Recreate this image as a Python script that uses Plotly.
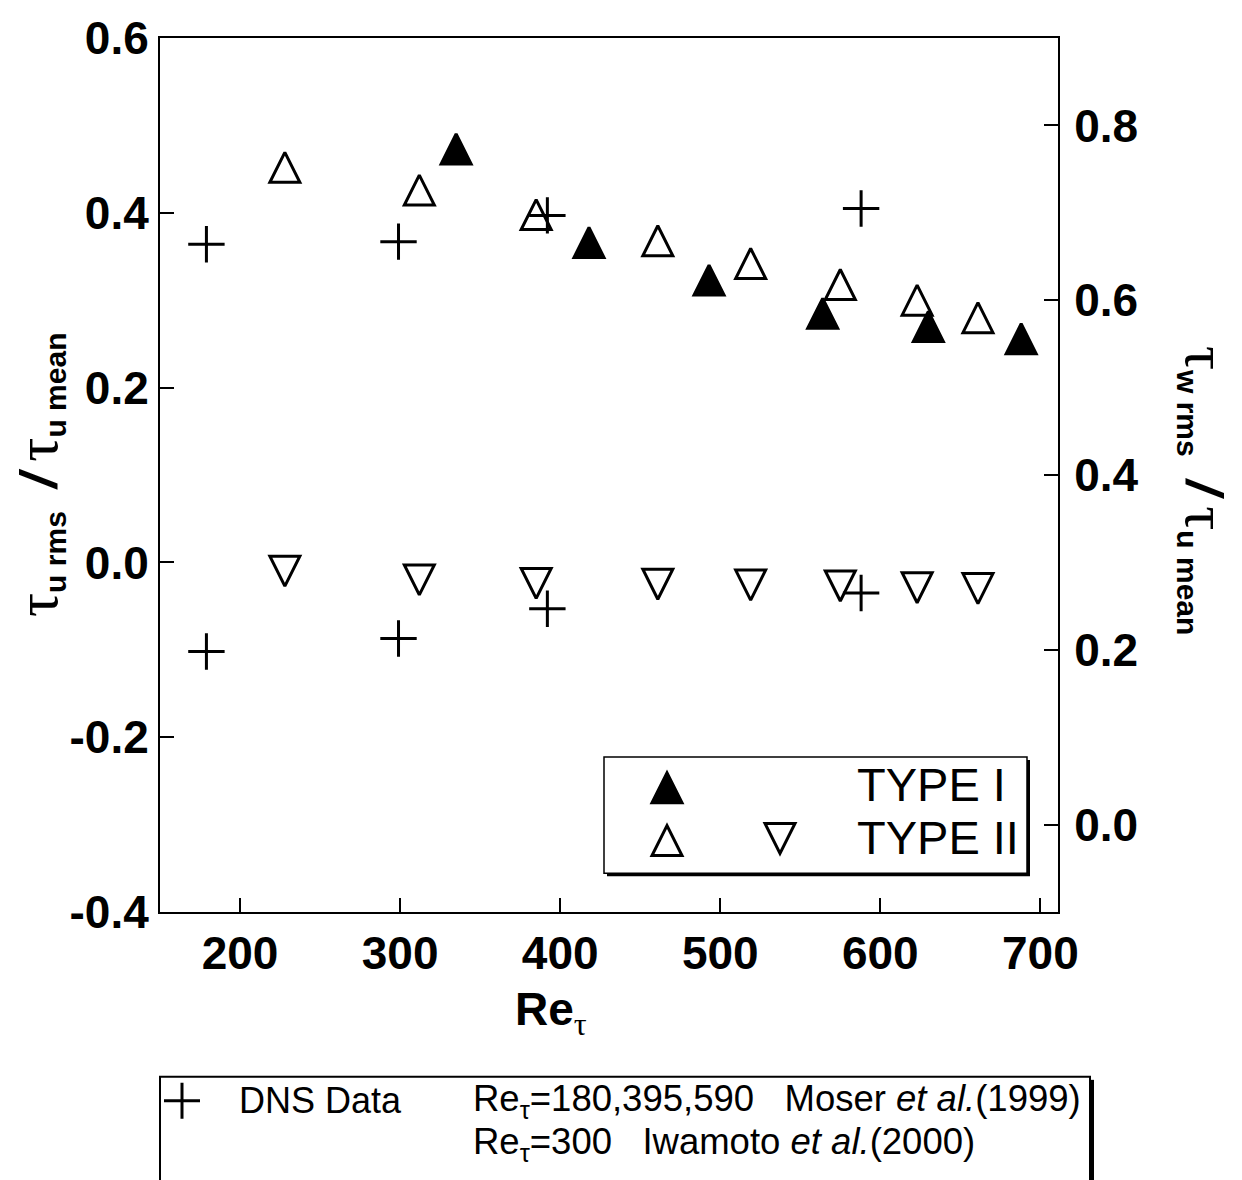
import plotly.graph_objects as go

# ---------------- data ----------------
re_dns = [179, 299, 392, 588]
urms_dns = [0.364, 0.367, 0.397, 0.405]      # left axis
wrms_dns = [0.198, 0.213, 0.247, 0.265]      # right axis

re_type1 = [335, 418, 493, 564, 630, 688]
urms_type1 = [0.473, 0.366, 0.323, 0.285, 0.270, 0.256]

re_type2 = [228, 312, 385, 461, 519, 575, 623, 661]
urms_type2 = [0.452, 0.426, 0.398, 0.368, 0.342, 0.318, 0.300, 0.280]
wrms_type2 = [0.290, 0.280, 0.276, 0.275, 0.274, 0.273, 0.271, 0.270]

x_ticks = [200, 300, 400, 500, 600, 700]
x_ticktext = ["200", "300", "400", "500", "600", "700"]
y_ticks = [-0.4, -0.2, 0.0, 0.2, 0.4, 0.6]
y_ticktext = ["-0.4", "-0.2", "0.0", "0.2", "0.4", "0.6"]
y2_ticks = [0.0, 0.2, 0.4, 0.6, 0.8]
y2_ticktext = ["0.0", "0.2", "0.4", "0.6", "0.8"]

legend_labels = ["TYPE I", "TYPE II"]
dns_label = "DNS Data"
dns_line1 = "Re<sub>τ</sub>=180,395,590   Moser <i>et al.</i>(1999)"
dns_line2 = "Re<sub>τ</sub>=300   Iwamoto <i>et al.</i>(2000)"

# ---------------- styling ----------------
SANS = "Liberation Sans, Arial, sans-serif"
SERIF = "Liberation Serif"
TRI = 30
TRI_LW = 3

fig = go.Figure()

# arrow markers give an equal-width/height triangle; standoff re-centres them
up_marker = dict(size=TRI, angle=180, standoff=TRI / 2)
down_marker = dict(size=TRI, angle=0, standoff=TRI / 2)

fig.add_trace(go.Scatter(
    x=re_type2, y=urms_type2, mode="markers", yaxis="y",
    marker=dict(symbol="arrow-down-open", color="black",
                line=dict(width=TRI_LW, color="black"), **up_marker)))
fig.add_trace(go.Scatter(
    x=re_type1, y=urms_type1, mode="markers", yaxis="y",
    marker=dict(symbol="arrow-down", color="black",
                line=dict(width=TRI_LW, color="black"), **up_marker)))
fig.add_trace(go.Scatter(
    x=re_dns, y=urms_dns, mode="markers", yaxis="y",
    marker=dict(symbol="cross-thin-open", size=26, color="black",
                line=dict(width=3, color="black"))))
fig.add_trace(go.Scatter(
    x=re_type2, y=wrms_type2, mode="markers", yaxis="y2",
    marker=dict(symbol="arrow-down-open", color="black",
                line=dict(width=TRI_LW, color="black"), **down_marker)))
fig.add_trace(go.Scatter(
    x=re_dns, y=wrms_dns, mode="markers", yaxis="y2",
    marker=dict(symbol="cross-thin-open", size=26, color="black",
                line=dict(width=3, color="black"))))

L, R, T, B = 160, 184, 32, 268
W, H = 1242, 1180
PW, PH = W - L - R, H - T - B


def px(xp):
    return (xp - L) / PW


def py(yp):
    return (T + PH - yp) / PH


tickfont = dict(family=SANS, size=46, color="black", weight="bold")
axis_common = dict(ticks="inside", ticklen=14, tickwidth=1.5, tickcolor="black",
                   showline=True, linewidth=2, linecolor="black",
                   showgrid=False, zeroline=False, tickfont=tickfont)

fig.update_layout(
    width=W, height=H, margin=dict(l=L, r=R, t=T, b=B),
    plot_bgcolor="white", paper_bgcolor="white", showlegend=False,
    xaxis=dict(range=[150, 711], tickmode="array", tickvals=x_ticks,
               ticktext=x_ticktext, mirror=True, **axis_common),
    yaxis=dict(range=[-0.4, 0.6], tickmode="array", tickvals=y_ticks,
               ticktext=y_ticktext, **axis_common),
    yaxis2=dict(range=[-0.1, 0.9], overlaying="y", side="right",
                tickmode="array", tickvals=y2_ticks, ticktext=y2_ticktext,
                ticklabelstandoff=5, **axis_common),
)

shapes = []
# inner legend box with drop shadow
shapes.append(dict(type="rect", xref="paper", yref="paper",
                   x0=px(607), x1=px(1030), y0=py(759), y1=py(876),
                   line=dict(width=0), fillcolor="black", layer="above"))
shapes.append(dict(type="rect", xref="paper", yref="paper",
                   x0=px(604), x1=px(1027), y0=py(756), y1=py(873),
                   line=dict(width=1.5, color="black"), fillcolor="white", layer="above"))


def tri_key(xc, yc, up, filled):
    h = TRI / 2
    if up:
        path = f"M {-h} {-h} L {h} {-h} L 0 {h} Z"
    else:
        path = f"M {-h} {h} L {h} {h} L 0 {-h} Z"
    return dict(type="path", xref="paper", yref="paper",
                xsizemode="pixel", ysizemode="pixel",
                xanchor=px(xc), yanchor=py(yc), path=path,
                line=dict(width=TRI_LW, color="black"),
                fillcolor="black" if filled else "white", layer="above")


shapes.append(tri_key(667, 787, True, True))
shapes.append(tri_key(667, 840, True, False))
shapes.append(tri_key(780, 838, False, False))

# bottom reference box
shapes.append(dict(type="rect", xref="paper", yref="paper",
                   x0=px(1089), x1=px(1094), y0=py(1081), y1=py(1190),
                   line=dict(width=0), fillcolor="black"))
shapes.append(dict(type="rect", xref="paper", yref="paper",
                   x0=px(160), x1=px(1090), y0=py(1078), y1=py(1190),
                   line=dict(width=2, color="black"), fillcolor="rgba(0,0,0,0)"))
shapes.append(dict(type="path", xref="paper", yref="paper",
                   xsizemode="pixel", ysizemode="pixel",
                   xanchor=px(182), yanchor=py(1102),
                   path="M -18 0 L 18 0 M 0 -18 L 0 18",
                   line=dict(width=3, color="black")))
fig.update_layout(shapes=shapes)

annotations = []
annotations.append(dict(text=legend_labels[0], xref="paper", yref="paper",
                        x=px(855), y=py(784), xanchor="left", yanchor="middle",
                        showarrow=False, font=dict(family=SANS, size=47, color="black")))
annotations.append(dict(text=legend_labels[1], xref="paper", yref="paper",
                        x=px(855), y=py(837), xanchor="left", yanchor="middle",
                        showarrow=False, font=dict(family=SANS, size=47, color="black")))

tau_x = f"<span style=\"font-family:{SERIF};font-weight:normal\">τ</span>"
tau = f"<span style=\"font-family:{SERIF};font-weight:normal;font-size:60px\">τ</span>"


def sub(t):
    return f"<sub><span style=\"font-size:30px\"><b>{t}</b></span></sub>"


slash = "<span style=\"font-size:52px\"><b><i>/</i></b></span>"

annotations.append(dict(
    text=f"<b>Re</b><sub>{tau_x}</sub>", xref="paper", yref="paper",
    x=px(551), y=py(1013), xanchor="center", yanchor="middle", showarrow=False,
    font=dict(family=SANS, size=46, color="black")))

annotations.append(dict(
    text=f"{tau}{sub('u rms')}  {slash} {tau}{sub('u mean')}",
    xref="paper", yref="paper", x=px(38), y=py(472), textangle=-90,
    xanchor="center", yanchor="middle", showarrow=False,
    font=dict(family=SANS, size=42, color="black")))
annotations.append(dict(
    text=f"{tau}{sub('w rms')}  {slash} {tau}{sub('u mean')}",
    xref="paper", yref="paper", x=px(1205), y=py(487), textangle=90,
    xanchor="center", yanchor="middle", showarrow=False,
    font=dict(family=SANS, size=42, color="black")))

annotations.append(dict(text=dns_label, xref="paper", yref="paper",
                        x=px(237), y=py(1102), xanchor="left", yanchor="middle",
                        showarrow=False, font=dict(family=SANS, size=36, color="black")))
annotations.append(dict(text=dns_line1, xref="paper", yref="paper",
                        x=px(471), y=py(1102), xanchor="left", yanchor="middle",
                        showarrow=False, font=dict(family=SANS, size=36.5, color="black")))
annotations.append(dict(text=dns_line2, xref="paper", yref="paper",
                        x=px(471), y=py(1146), xanchor="left", yanchor="middle",
                        showarrow=False, font=dict(family=SANS, size=36.5, color="black")))
fig.update_layout(annotations=annotations)

fig.write_html("out.html")
